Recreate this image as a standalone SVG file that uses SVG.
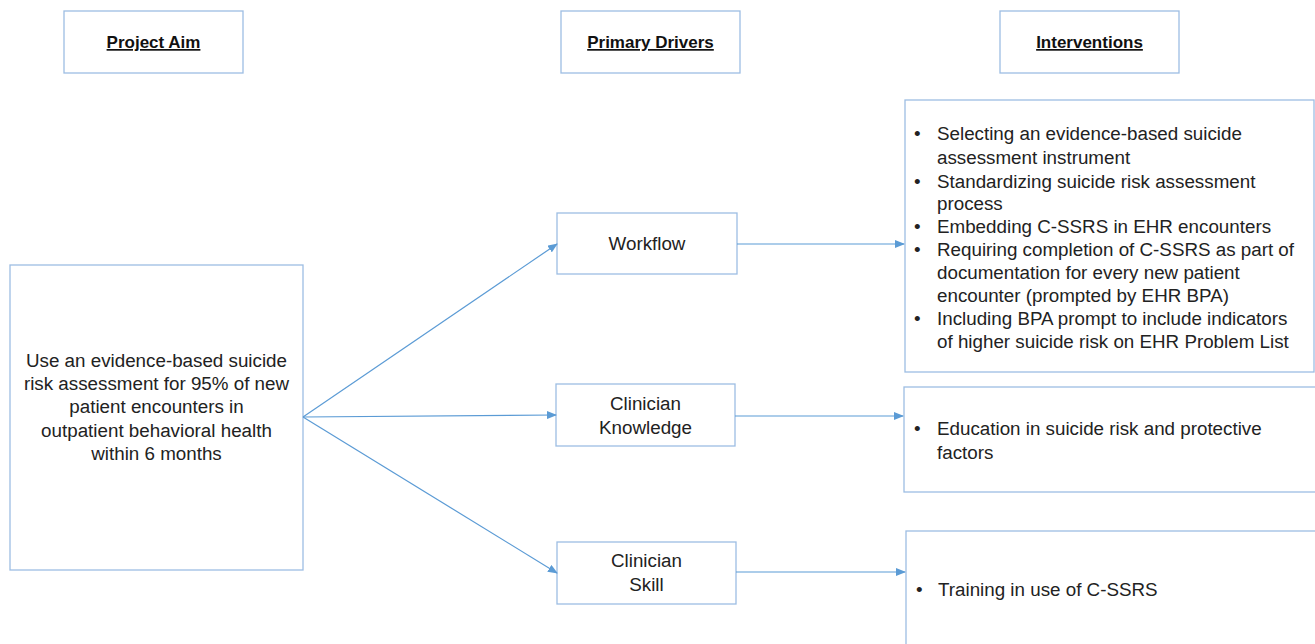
<svg xmlns="http://www.w3.org/2000/svg" width="1315" height="644" viewBox="0 0 1315 644">
<defs>
<style>
.box{fill:#fff;stroke:#9dbde3;stroke-width:1.3}
.hd{font-family:"Liberation Sans",Arial,sans-serif;font-weight:bold;font-size:17px;fill:#111;text-decoration:underline;text-anchor:middle}
.t{font-family:"Liberation Sans",Arial,sans-serif;font-size:18.8px;fill:#222}
.c{text-anchor:middle}
.ln{stroke:#5b9bd5;stroke-width:1.2;fill:none;marker-end:url(#ah)}
</style>
<marker id="ah" markerWidth="10" markerHeight="8" refX="9" refY="4" orient="auto" markerUnits="userSpaceOnUse">
<path d="M0,0 L10,4 L0,8 z" fill="#5b9bd5"/>
</marker>
</defs>
<rect width="1315" height="644" fill="#fff"/>
<g id="hdr-aim"><rect class="box" x="64" y="11" width="179" height="62"/><text class="hd" x="153.5" y="48">Project Aim</text></g>
<g id="hdr-drivers"><rect class="box" x="561" y="11" width="179" height="62"/><text class="hd" x="650.5" y="48">Primary Drivers</text></g>
<g id="hdr-int"><rect class="box" x="1000" y="11" width="179" height="62"/><text class="hd" x="1089.5" y="48">Interventions</text></g>
<g id="aim"><rect class="box" x="10" y="265" width="293" height="305"/>
<text class="t c" x="156.5"><tspan x="156.5" y="367">Use an evidence-based suicide</tspan><tspan x="156.5" y="390">risk assessment for 95% of new</tspan><tspan x="156.5" y="413">patient encounters in</tspan><tspan x="156.5" y="437">outpatient behavioral health</tspan><tspan x="156.5" y="460">within 6 months</tspan></text></g>
<g id="workflow"><rect class="box" x="557" y="213" width="180" height="61"/><text class="t c" x="647" y="250">Workflow</text></g>
<g id="knowledge"><rect class="box" x="556" y="384" width="179" height="62"/><text class="t c"><tspan x="645.5" y="410">Clinician</tspan><tspan x="645.5" y="434">Knowledge</tspan></text></g>
<g id="skill"><rect class="box" x="557" y="542" width="179" height="62"/><text class="t c"><tspan x="646.5" y="567">Clinician</tspan><tspan x="646.5" y="591">Skill</tspan></text></g>
<g id="int1"><rect class="box" x="905" y="100" width="409" height="272"/>
<g class="t">
<text x="914" y="140">•</text><text x="937" y="140">Selecting an evidence-based suicide</text>
<text x="937" y="164">assessment instrument</text>
<text x="914" y="188">•</text><text x="937" y="188">Standardizing suicide risk assessment</text>
<text x="937" y="210">process</text>
<text x="914" y="233">•</text><text x="937" y="233">Embedding C-SSRS in EHR encounters</text>
<text x="914" y="256">•</text><text x="937" y="256">Requiring completion of C-SSRS as part of</text>
<text x="937" y="279">documentation for every new patient</text>
<text x="937" y="302">encounter (prompted by EHR BPA)</text>
<text x="914" y="325">•</text><text x="937" y="325">Including BPA prompt to include indicators</text>
<text x="937" y="348">of higher suicide risk on EHR Problem List</text>
</g></g>
<g id="int2"><rect class="box" x="904" y="387" width="412" height="105"/>
<g class="t"><text x="914" y="435">•</text><text x="937" y="435">Education in suicide risk and protective</text><text x="937" y="459">factors</text></g></g>
<g id="int3"><rect class="box" x="906" y="531" width="412" height="130"/>
<g class="t"><text x="916" y="596">•</text><text x="938" y="596">Training in use of C-SSRS</text></g></g>
<g id="connectors">
<line class="ln" x1="303" y1="417" x2="557" y2="244"/>
<line class="ln" x1="303" y1="417" x2="556" y2="415"/>
<line class="ln" x1="303" y1="417" x2="557" y2="573"/>
<line class="ln" x1="737" y1="244" x2="904" y2="244"/>
<line class="ln" x1="735" y1="416" x2="903" y2="416"/>
<line class="ln" x1="736" y1="572" x2="905" y2="572"/>
</g>
</svg>
